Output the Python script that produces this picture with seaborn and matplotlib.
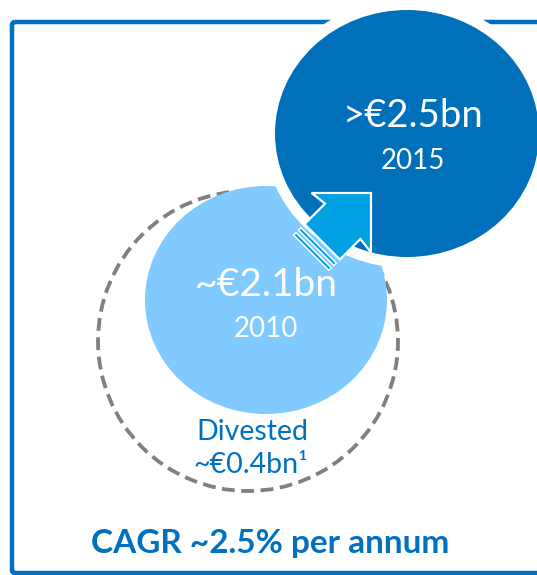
import numpy as np
import matplotlib
matplotlib.use("Agg")
import matplotlib.pyplot as plt
from matplotlib.patches import Ellipse, Circle, Polygon, FancyBboxPatch
import seaborn as sns

# --- chart content -------------------------------------------------------
years = ["2010", "2015"]
revenue_labels = ["~€2.1bn", ">€2.5bn"]
divested_text = ["Divested", "~€0.4bn¹"]
cagr_text = "CAGR ~2.5% per annum"

# --- styling -------------------------------------------------------------
sns.set_theme(style="white")
plt.rcParams["font.family"] = ["Lato", "DejaVu Sans"]

frame_blue = "#0070C0"
dark_blue = "#0070BA"
light_blue = "#80CAFF"
arrow_blue = "#00A0E3"
dash_grey = "#808080"

W, H = 537, 575
fig = plt.figure(figsize=(W / 100, H / 100), dpi=100)
ax = fig.add_axes([0, 0, 1, 1])
ax.set_xlim(0, W)
ax.set_ylim(H, 0)
ax.axis("off")

PX = 0.72  # points per pixel at 100 dpi

# outer frame (runs off the right edge)
frame = FancyBboxPatch((12, 22), 560, 551, boxstyle="round,pad=0,rounding_size=3",
                       fill=False, edgecolor=frame_blue, linewidth=4.5 * PX, zorder=1)
ax.add_patch(frame)

# 2010 total incl. later divestment (dashed outline)
ax.add_patch(Circle((248, 341), 150, fill=False, edgecolor=dash_grey,
                    linewidth=3.8 * PX, linestyle=(0, (3.4, 1.7)), zorder=2))

# 2010 bubble
ax.add_patch(Ellipse((266, 300), 242, 228, facecolor=light_blue,
                     edgecolor="none", zorder=3))

# 2015 bubble with white halo
ax.add_patch(Ellipse((407, 133.5), 264 + 22, 247 + 22, facecolor="white",
                     edgecolor="none", zorder=4))
ax.add_patch(Ellipse((407, 133.5), 264, 247, facecolor=dark_blue,
                     edgecolor="none", zorder=5))

# growth arrow pointing from 2010 to 2015 bubble
tip = np.array([371.0, 193.0])
dvec = np.array([1.0, -1.0]) / np.sqrt(2)
pvec = np.array([1.0, 1.0]) / np.sqrt(2)


def to_xy(pts):
    return [tip + d * dvec + p * pvec for d, p in pts]


arrow_shape = [(0, 0), (-42, -42), (-40, -25), (-69, -25),
               (-69, 25), (-40, 25), (-42, 42)]
ax.add_patch(Polygon(to_xy(arrow_shape), closed=True, facecolor=arrow_blue,
                     edgecolor="white", linewidth=2.2 * PX, joinstyle="miter", zorder=6))
for d0, d1 in [(-74, -77.5), (-81, -84.5)]:
    stripe = [(d0, -25), (d1, -25), (d1, 25), (d0, 25)]
    ax.add_patch(Polygon(to_xy(stripe), closed=True, facecolor=arrow_blue,
                         edgecolor="white", linewidth=1.5 * PX, zorder=6))

# labels
ax.text(413, 116, revenue_labels[1], color="white", fontsize=27.5, ha="center",
        va="center", zorder=7)
ax.text(413, 161, years[1], color="white", fontsize=20, ha="center",
        va="center", zorder=7)
ax.text(266, 285, revenue_labels[0], color="white", fontsize=28, ha="center",
        va="center", zorder=7)
ax.text(266, 329, years[0], color="white", fontsize=20, ha="center",
        va="center", zorder=7)
ax.text(252, 432, divested_text[0], color=frame_blue, fontsize=20.5, ha="center",
        va="center", zorder=7)
ax.text(251, 465, divested_text[1], color=frame_blue, fontsize=20.5, ha="center",
        va="center", zorder=7)
ax.text(270, 543, cagr_text, color=frame_blue, fontsize=24, fontweight="bold",
        ha="center", va="center", zorder=7)

fig.savefig("out.png", dpi=100)
